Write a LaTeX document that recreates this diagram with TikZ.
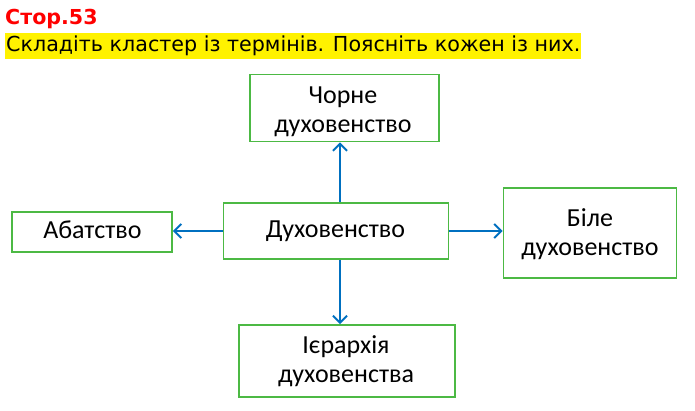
\documentclass[tikz,border=0pt]{standalone}
\usepackage{fontspec}
\setmainfont{Carlito}
\newfontfamily\verd{DejaVu Sans}
\usetikzlibrary{arrows.meta,calc}
\definecolor{boxgreen}{RGB}{76,185,68}
\definecolor{arrblue}{RGB}{0,112,192}
\definecolor{titlered}{RGB}{255,0,0}
\setlength{\tabcolsep}{0pt}
\begin{document}
\begin{tikzpicture}[x=1pt,y=-1pt,
  box/.style={draw=boxgreen,line width=1.8pt,minimum width=#1,inner sep=0pt},
  txt/.style={anchor=base,inner sep=0pt,font=\fontsize{26}{29}\selectfont},
  arr/.style={draw=arrblue,line width=2pt,-{Straight Barb[length=7pt,width=14pt,line width=2pt]}}]
\useasboundingbox[fill=white] (0,0) rectangle (695,411);
% title
\node[anchor=base west,inner sep=0pt,text=titlered,font=\verd\bfseries\fontsize{20.6}{24}\selectfont] (title) at (5,25) {Стор.53};
\node[anchor=west,fill=yellow,inner xsep=1pt,inner ysep=3pt,text height=15pt,text depth=5pt,font=\verd\fontsize{20.65}{24}\selectfont] (task) at (5,46.5) {Складіть кластер із термінів. Поясніть кожен із них.};
% boxes
\node[box=189pt,minimum height=67pt] (top) at (344.5,108) {};
\node[box=225pt,minimum height=56pt] (c) at (336,231) {};
\node[box=160pt,minimum height=40pt] (l) at (92,232) {};
\node[box=173pt,minimum height=90pt] (r) at (590,233) {};
\node[box=216pt,minimum height=72pt] (b) at (347,361) {};
% texts
\node[txt] (toptxt) at (343,104) {\begin{tabular}[t]{c}Чорне\\духовенство\end{tabular}};
\node[txt] (ctxt) at (335.5,238) {Духовенство};
\node[txt] (ltxt) at (92.5,239) {Абатство};
\node[txt] (rtxt) at (590,227) {\begin{tabular}[t]{c}Біле\\духовенство\end{tabular}};
\node[txt] (btxt) at (346,353) {\begin{tabular}[t]{c}Ієрархія\\духовенства\end{tabular}};
% arrows
\draw[arr] ([xshift=4pt]c.north) -- ([xshift=4pt]c.north |- top.south);
\draw[arr] ([xshift=4pt]c.south) -- ([xshift=4pt]c.south |- b.north);
\draw[arr] (c.west) -- (c.west -| l.east);
\draw[arr] (c.east) -- (c.east -| r.west);
\end{tikzpicture}
\end{document}
